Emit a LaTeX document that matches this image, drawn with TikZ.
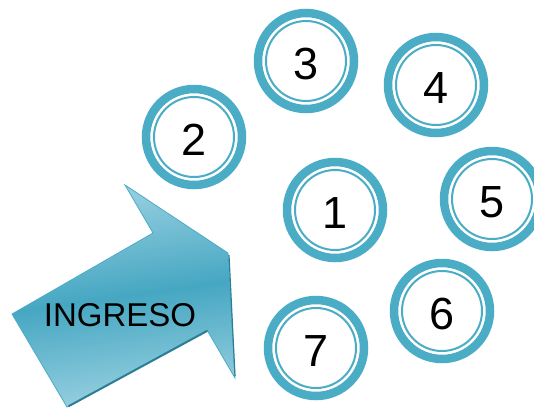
\documentclass[tikz,border=0pt]{standalone}
\usepackage{fontspec}
\setmainfont{Liberation Sans}
\definecolor{ringblue}{HTML}{4BACC6}
\definecolor{arrowlight}{HTML}{9AD1E1}
\definecolor{arrowmid}{HTML}{46A7C2}
\definecolor{arrowdark}{HTML}{2C7E95}
\pgfdeclareverticalshading{arrowshade}{100bp}{color(0bp)=(arrowlight); color(25bp)=(arrowlight); color(50bp)=(arrowmid); color(75bp)=(arrowlight); color(100bp)=(arrowlight)}
\begin{document}
\begin{tikzpicture}[x=1pt,y=-1pt,
  ringnode/.style={circle,draw=ringblue,line width=8.5pt,fill=white,
    minimum size=96pt,inner sep=0pt,outer sep=0pt,
    path picture={\draw[ringblue,line width=2pt] (path picture bounding box.center) circle (40pt);}},
  digit/.style={font=\fontsize{45}{45}\selectfont,inner sep=0pt},
  arrowtext/.style={font=\fontsize{33}{33}\selectfont,inner sep=0pt}]
\useasboundingbox (0,0) rectangle (534,408);
% arrow
\path[shading=arrowshade,shading angle=8,draw=ringblue,line width=0.8pt]
  (12,314) -- (153,233) -- (125,185) -- (228,253) -- (235,378) -- (207,330) -- (67,407) -- cycle;
\draw[arrowdark,line width=2pt,line cap=round] (69,406) -- (207,331);
\draw[arrowdark,line width=1.2pt] (229,255) -- (235,376);
\node[arrowtext] (ing) at (120,315) {INGRESO};
% circles
\node[ringnode] (c1) at (335,210) {};
\node[ringnode] (c2) at (194,137) {};
\node[ringnode] (c3) at (306,61) {};
\node[ringnode] (c4) at (436,85) {};
\node[ringnode] (c5) at (492,199) {};
\node[ringnode] (c6) at (442,311) {};
\node[ringnode] (c7) at (316,348) {};
\node[digit] (d1) at ([yshift=-3pt]c1.center) {1};
\node[digit] (d2) at ([yshift=-3pt]c2.center) {2};
\node[digit] (d3) at ([yshift=-3pt]c3.center) {3};
\node[digit] (d4) at ([yshift=-3pt]c4.center) {4};
\node[digit] (d5) at ([yshift=-3pt]c5.center) {5};
\node[digit] (d6) at ([yshift=-3pt]c6.center) {6};
\node[digit] (d7) at ([yshift=-3pt]c7.center) {7};
\end{tikzpicture}
\end{document}
